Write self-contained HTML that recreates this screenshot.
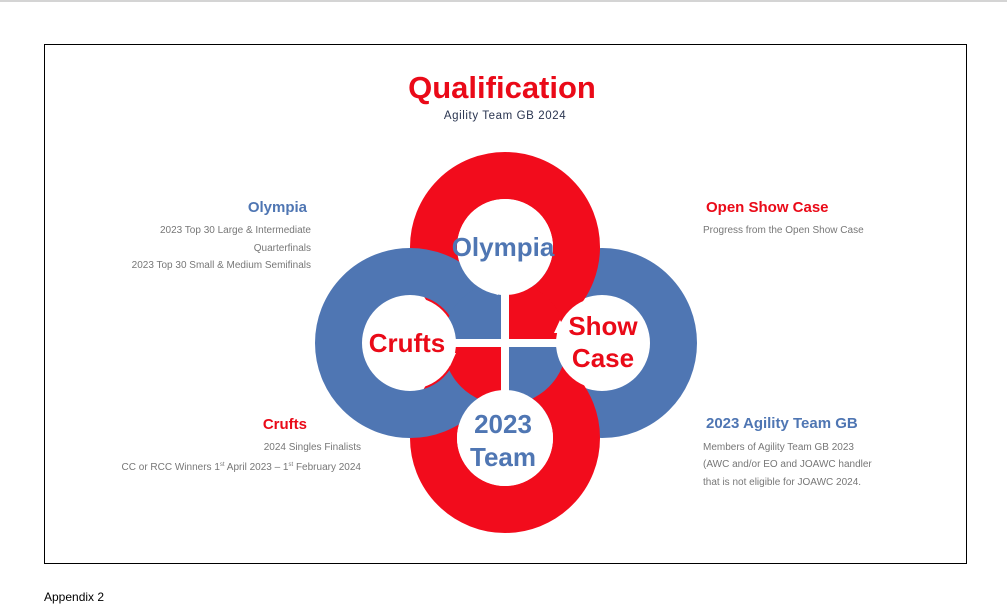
<!DOCTYPE html>
<html><head><meta charset="utf-8"><style>
html,body{margin:0;padding:0;background:#fff;}
body{width:1007px;height:612px;overflow:hidden;position:relative;font-family:"Liberation Sans",sans-serif;}
</style></head><body>
<svg width="1007" height="612" viewBox="0 0 1007 612" xmlns="http://www.w3.org/2000/svg" style="position:absolute;left:0;top:0">
<defs><clipPath id="cc"><circle cx="505" cy="343" r="62"/></clipPath></defs>
<rect x="0" y="0" width="1007" height="2" fill="#d4d4d4"/>
<rect x="44.5" y="44.5" width="922" height="519" fill="none" stroke="#000" stroke-width="1"/>
<text x="502" y="98" text-anchor="middle" font-family="Liberation Sans, sans-serif" font-weight="bold" font-size="31" fill="#ea0a18">Qualification</text>
<text x="505" y="119" text-anchor="middle" font-family="Liberation Sans, sans-serif" font-size="11.5" fill="#2a3550" letter-spacing="0.6">Agility Team GB 2024</text>

<g fill="none" stroke-width="47">
<circle cx="602" cy="343" r="71.5" stroke="#4f76b3"/>
<circle cx="505" cy="247" r="71.5" stroke="#f20c1c"/>
<circle cx="505" cy="438" r="71.5" stroke="#f20c1c"/>
<circle cx="410" cy="343" r="71.5" stroke="#4f76b3"/>
</g>
<g clip-path="url(#cc)">
<path d="M505 343 L505 280 L570 280 L570 343 Z" fill="#f20c1c"/>
<path d="M505 343 L505 280 L440 280 L440 343 Z" fill="#4f76b3"/>
<path d="M505 343 L440 343 L440 410 L505 410 Z" fill="#f20c1c"/>
<path d="M505 343 L570 343 L570 410 L505 410 Z" fill="#4f76b3"/>
</g>
<g fill="#fff">
<circle cx="505" cy="247" r="48"/>
<circle cx="410" cy="343" r="46"/>
<circle cx="602" cy="343" r="46"/>
<circle cx="505" cy="438" r="48"/>
<polygon points="498,282 498,295 485,290"/>
<polygon points="567,333 554,333 560,320"/>
<polygon points="443,353 456,353 450,366"/>
<polygon points="512,404 512,391 525,396"/>
</g>
<rect x="501" y="283" width="8" height="120" fill="#fff"/>
<rect x="445" y="339" width="120" height="8" fill="#fff"/>

<g font-family="Liberation Sans, sans-serif" font-weight="bold" text-anchor="middle">
<text x="503" y="256" font-size="26" fill="#4f76b3">Olympia</text>
<text x="407" y="352" font-size="26" fill="#ea0a18">Crufts</text>
<text x="603" y="335" font-size="26" fill="#ea0a18">Show</text>
<text x="603" y="367" font-size="26" fill="#ea0a18">Case</text>
<text x="503" y="433" font-size="26" fill="#4f76b3">2023</text>
<text x="503" y="466" font-size="26" fill="#4f76b3">Team</text>
</g>

<g font-family="Liberation Sans, sans-serif">
<text x="307" y="212" text-anchor="end" font-weight="bold" font-size="15" fill="#4f76b3">Olympia</text>
<text x="311" y="233" text-anchor="end" font-size="10" fill="#777">2023 Top 30 Large &amp; Intermediate</text>
<text x="311" y="251" text-anchor="end" font-size="10" fill="#777">Quarterfinals</text>
<text x="311" y="268" text-anchor="end" font-size="10" fill="#777">2023 Top 30 Small &amp; Medium Semifinals</text>

<text x="307" y="429" text-anchor="end" font-weight="bold" font-size="15" fill="#ea0a18">Crufts</text>
<text x="361" y="450" text-anchor="end" font-size="10" fill="#777">2024 Singles Finalists</text>
<text x="361" y="470" text-anchor="end" font-size="10" fill="#777">CC or RCC Winners 1<tspan font-size="6" dy="-4">st</tspan><tspan dy="4"> April 2023 – 1</tspan><tspan font-size="6" dy="-4">st</tspan><tspan dy="4"> February 2024</tspan></text>

<text x="706" y="212" font-weight="bold" font-size="15" fill="#ea0a18">Open Show Case</text>
<text x="703" y="233" font-size="10" fill="#777">Progress from the Open Show Case</text>

<text x="706" y="428" font-weight="bold" font-size="15" fill="#4f76b3">2023 Agility Team GB</text>
<text x="703" y="450" font-size="10" fill="#777">Members of Agility Team GB 2023</text>
<text x="703" y="467" font-size="10" fill="#777">(AWC and/or EO and JOAWC handler</text>
<text x="703" y="485" font-size="10" fill="#777">that is not eligible for JOAWC 2024.</text>

<text x="44" y="601" font-size="12" fill="#000">Appendix 2</text>
</g>
</svg>
</body></html>
